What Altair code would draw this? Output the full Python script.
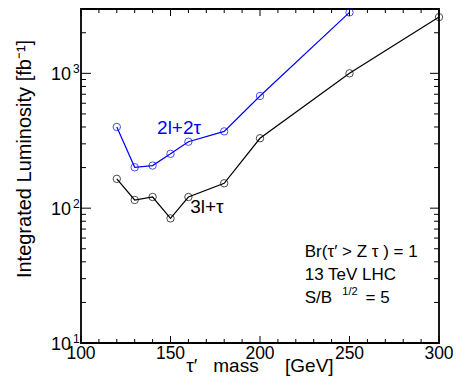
import altair as alt
import pandas as pd

# ---- data ----
masses_2l = [120, 130, 140, 150, 160, 180, 200, 250]
lumi_2l = [400, 201, 207, 253, 311, 371, 679, 2830]
masses_3l = [120, 130, 140, 150, 160, 180, 200, 250, 300]
lumi_3l = [165, 115, 121, 84, 121, 153, 330, 1000, 2612]

x_major = [100, 150, 200, 250, 300]
x_major_labels = ["100", "150", "200", "250", "300"]
x_minor = [110, 120, 130, 140, 160, 170, 180, 190, 210, 220, 230, 240,
           260, 270, 280, 290]
y_decades = [10, 100, 1000]
y_exps = ["1", "2", "3"]
y_minor = [20, 30, 40, 50, 60, 70, 80, 90,
           200, 300, 400, 500, 600, 700, 800, 900, 2000]

x_title = "τ′\u00a0\u00a0\u00a0mass\u00a0\u00a0\u00a0\u00a0\u00a0[GeV]"
y_title = "Integrated Luminosity [fb⁻¹]"

series_labels = ["2l+2τ", "3l+τ"]
series_label_x = [142.5, 161]
series_label_y = [394, 102]
series_label_col = ["#0000ff", "#000000"]

note_text = ["Br(τ′ > Z τ ) = 1", "13 TeV LHC", "S/B", "1/2", "= 5"]
note_x = [225, 225, 225, 246, 259]
note_y = [47.7, 32, 21.7, 24.0, 21.7]
note_size = [17, 17, 17, 11, 17]

FONT = "Liberation Sans"
W, H = 358, 334

xs = alt.Scale(domain=[100, 300], nice=False, zero=False)
ys = alt.Scale(type="log", domain=[10, 3000], nice=False)


def xenc(field):
    return alt.X(field, scale=xs, axis=None)


def yenc(field):
    return alt.Y(field, scale=ys, axis=None)


df2 = pd.DataFrame({"mass": masses_2l, "lumi": lumi_2l})
df3 = pd.DataFrame({"mass": masses_3l, "lumi": lumi_3l})

blue_line = alt.Chart(df2).mark_line(color="#0000ff", strokeWidth=1.2).encode(
    x=xenc("mass:Q"), y=yenc("lumi:Q"))
blue_pts = alt.Chart(df2).mark_point(
    shape="circle", filled=False, color="#0000ff", size=55, strokeWidth=1
).encode(x=xenc("mass:Q"), y=yenc("lumi:Q"))
black_line = alt.Chart(df3).mark_line(color="#000000", strokeWidth=1.2).encode(
    x=xenc("mass:Q"), y=yenc("lumi:Q"))
black_pts = alt.Chart(df3).mark_point(
    shape="circle", filled=False, color="#000000", size=55, strokeWidth=1
).encode(x=xenc("mass:Q"), y=yenc("lumi:Q"))


# inward tick marks on all four edges (tick marks placed through the scales)
def xticks(values, ycenter, length, col):
    return alt.Chart(pd.DataFrame({col: values})).mark_tick(
        orient="vertical", thickness=1, color="black", opacity=1, filled=True
    ).encode(x=xenc(col + ":Q"), y=alt.value(ycenter), size=alt.value(length))


def yticks(values, xcenter, length, col):
    return alt.Chart(pd.DataFrame({col: values})).mark_tick(
        orient="horizontal", thickness=1, color="black", opacity=1, filled=True
    ).encode(y=yenc(col + ":Q"), x=alt.value(xcenter), size=alt.value(length))


tick_layers = [
    xticks(x_major, H - 3.5, 7, "xa"), xticks(x_minor, H - 2, 4, "xb"),
    xticks(x_major, 3.5, 7, "xc"), xticks(x_minor, 2, 4, "xd"),
    yticks(y_decades, 5, 10, "ya"), yticks(y_minor, 2.5, 5, "yb"),
    yticks(y_decades, W - 4.5, 9, "yc"), yticks(y_minor, W - 2.5, 5, "yd"),
]

# tick labels
xlab = alt.Chart(pd.DataFrame({"v": x_major, "t": x_major_labels})).mark_text(
    align="center", baseline="top", fontSize=17.5, font=FONT, color="black", dy=2
).encode(x=xenc("v:Q"), y=alt.value(H), text="t:N")

ylab = alt.Chart(pd.DataFrame({"v": y_decades, "t": ["10"] * len(y_decades)})).mark_text(
    align="right", baseline="middle", fontSize=18, font=FONT, color="black", dy=2
).encode(x=alt.value(-10), y=yenc("v:Q"), text="t:N")

exps = alt.Chart(pd.DataFrame({"d": y_decades, "e": y_exps})).mark_text(
    align="left", baseline="middle", fontSize=12, font=FONT, color="black", dy=-4
).encode(x=alt.value(-8), y=yenc("d:Q"), text="e:N")

# axis titles
xt = alt.Chart(pd.DataFrame({"t": [x_title]})).mark_text(
    align="center", baseline="alphabetic", fontSize=19, font=FONT, color="black"
).encode(x=alt.value(W / 2), y=alt.value(H + 29), text="t:N")
yt = alt.Chart(pd.DataFrame({"t": [y_title]})).mark_text(
    align="center", baseline="middle", fontSize=20, font=FONT, color="black", angle=270
).encode(x=alt.value(-56), y=alt.value(150), text="t:N")

lab_df = pd.DataFrame({"t": series_labels, "x": series_label_x,
                       "y": series_label_y, "c": series_label_col})
labels = alt.Chart(lab_df).mark_text(
    align="left", baseline="middle", fontSize=19, font=FONT
).encode(
    x=xenc("x:Q"), y=yenc("y:Q"),
    text="t:N",
    color=alt.Color("c:N", scale=None),
)

note_df = pd.DataFrame({"t": note_text, "x": note_x, "y": note_y, "s": note_size})
notes = alt.Chart(note_df).mark_text(
    align="left", baseline="middle", font=FONT, color="black"
).encode(
    x=xenc("x:Q"), y=yenc("y:Q"),
    text="t:N",
    size=alt.Size("s:Q", scale=None, legend=None),
)

chart = alt.layer(blue_line, blue_pts, black_line, black_pts,
                  xlab, ylab, exps, xt, yt, labels, notes, *tick_layers
).properties(
    width=W, height=H,
    autosize=alt.AutoSizeParams(type="none"),
    padding={"left": 73, "top": 1, "right": 14, "bottom": 33},
).configure_view(
    stroke="black", strokeWidth=1.8
)

chart.save("out.html", embed_options={"renderer": "svg", "actions": False})
